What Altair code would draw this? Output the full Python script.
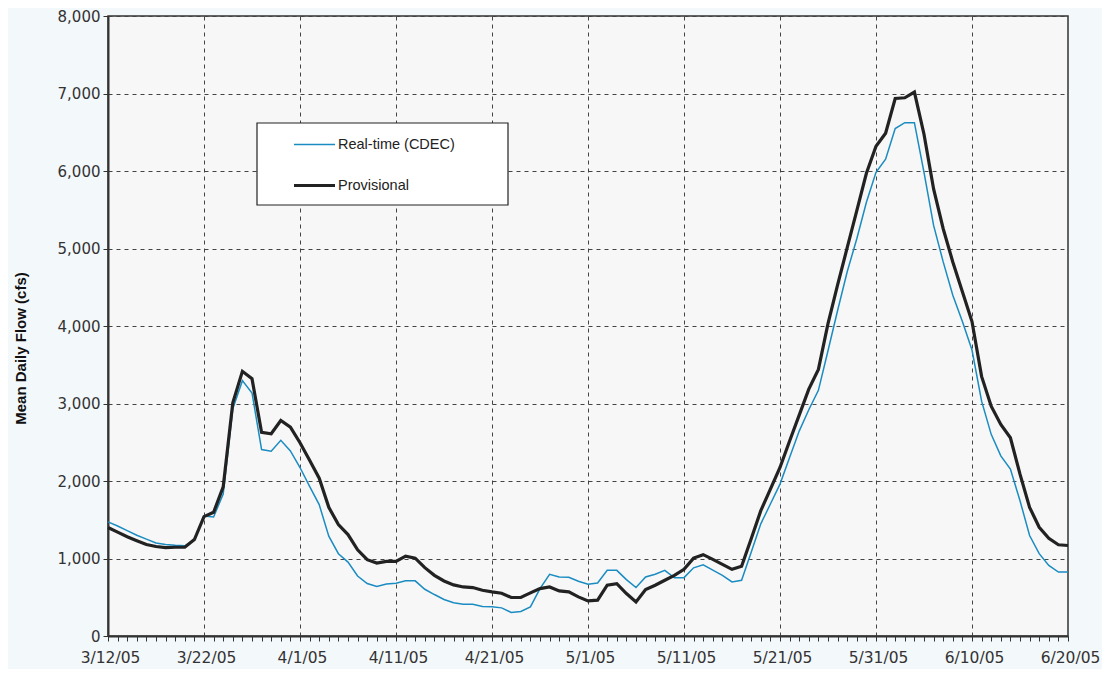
import altair as alt
import pandas as pd

# Day offsets from 3/12/05 (0 .. 100)
days = list(range(0, 101))

tick_labels = ["3/12/05", "3/22/05", "4/1/05", "4/11/05", "4/21/05", "5/1/05",
               "5/11/05", "5/21/05", "5/31/05", "6/10/05", "6/20/05"]

realtime = [1472, 1420, 1360, 1300, 1250, 1200, 1181, 1170, 1164, 1245,
            1549, 1536, 1832, 2931, 3295, 3136, 2405, 2384, 2525, 2388,
            2174, 1930, 1695, 1288, 1062, 954, 774, 677, 638, 670,
            682, 712, 712, 603, 535, 471, 428, 411, 411, 381,
            376, 363, 304, 317, 376, 612, 796, 761, 757, 706,
            668, 684, 847, 847, 728, 625, 761, 796, 847, 751,
            753, 880, 918, 851, 783, 697, 719, 1082, 1447, 1703,
            1960, 2302, 2644, 2920, 3170, 3680, 4200, 4700, 5126, 5597,
            5982, 6153, 6547, 6624, 6624, 5982, 5298, 4827, 4398, 4057,
            3690, 3030, 2602, 2324, 2153, 1746, 1297, 1062, 911, 825,
            825]

provisional = [1400, 1340, 1280, 1230, 1180, 1155, 1140, 1145, 1145, 1245,
               1540, 1596, 1925, 3008, 3415, 3320, 2627, 2610, 2781, 2696,
               2494, 2268, 2037, 1660, 1438, 1309, 1113, 985, 941, 963,
               963, 1031, 1005, 882, 783, 710, 659, 633, 625, 590,
               569, 552, 497, 497, 556, 612, 633, 582, 569, 505,
               453, 462, 655, 676, 548, 440, 600, 655, 719, 783,
               860, 1005, 1050, 988, 924, 860, 899, 1254, 1617, 1896,
               2174, 2516, 2850, 3185, 3440, 4030, 4530, 5010, 5490, 5970,
               6320, 6487, 6936, 6945, 7018, 6474, 5768, 5255, 4827, 4442,
               4057, 3350, 2965, 2730, 2558, 2088, 1660, 1403, 1262, 1177,
               1168]

series_names = ["Real-time (CDEC)", "Provisional"]
series_colors = ["#1a8cc1", "#222222"]
series_widths = [1.5, 3.2]

rows = []
for i, d in enumerate(days):
    rows.append({"day": d, "flow": realtime[i], "series": series_names[0], "order": 0})
for i, d in enumerate(days):
    rows.append({"day": d, "flow": provisional[i], "series": series_names[1], "order": 1})
df = pd.DataFrame(rows)

label_array = "[" + ",".join("'" + s + "'" for s in tick_labels) + "]"

x_axis = alt.Axis(
    values=days,
    labelExpr="datum.value % 10 === 0 ? " + label_array + "[datum.value / 10] : ''",
    labelOverlap=False,
    labelFlush=False,
    labelAlign="center",
    labelFont="DejaVu Sans",
    labelFontSize=15.5,
    labelColor="#333333",
    labelPadding=9,
    labelOffset=2,
    tickSize=5,
    tickColor="#333333",
    tickWidth=1,
    domainColor="#333333",
    domainWidth=2,
    grid=True,
    gridColor="#444444",
    gridDash=[4, 4],
    gridWidth=1,
    gridOpacity={"condition": {"test": "datum.value % 10 === 0 && datum.value > 0 && datum.value < 100", "value": 1}, "value": 0},
    title=None,
)

y_axis = alt.Axis(
    values=[0, 1000, 2000, 3000, 4000, 5000, 6000, 7000, 8000],
    format=",d",
    labelFlush=False,
    labelFont="DejaVu Sans",
    labelFontSize=15,
    labelColor="#333333",
    labelPadding=3,
    tickSize=5,
    tickColor="#333333",
    domainColor="#333333",
    domainWidth=2,
    grid=True,
    gridColor="#444444",
    gridDash=[4, 4],
    gridWidth=1,
    title="Mean Daily Flow (cfs)",
    titleFont="Liberation Sans",
    titleFontSize=15,
    titleFontWeight="bold",
    titleColor="#111111",
    titleAngle=-90,
    titleX=-88,
    titleY=332,
    titleAlign="center",
    titleBaseline="middle",
)

legend_cfg = dict(
    orient="none", legendX=149, legendY=107,
    title=None,
    padding=0, rowPadding=12,
    symbolType="stroke", symbolSize=1681, symbolOffset=35,
    labelOffset=1,
    labelFont="Liberation Sans", labelFontSize=14.5, labelColor="#222222",
)

lines = alt.Chart(df).mark_line(strokeJoin="miter").encode(
    x=alt.X("day:Q", scale=alt.Scale(domain=[0, 100], nice=False, zero=False), axis=x_axis),
    y=alt.Y("flow:Q", scale=alt.Scale(domain=[0, 8000], nice=False), axis=y_axis),
    color=alt.Color("series:N",
                    scale=alt.Scale(domain=series_names, range=series_colors),
                    legend=alt.Legend(**legend_cfg)),
    strokeWidth=alt.StrokeWidth("series:N",
                                scale=alt.Scale(domain=series_names, range=series_widths),
                                legend=alt.Legend(**legend_cfg)),
    order=alt.Order("order:Q"),
    detail="series:N",
)

# legend frame (decoration behind the built-in legend)
legend_box = alt.Chart(pd.DataFrame({"k": [0]})).mark_rect(
    fill="#ffffff", stroke="#222222", strokeWidth=1.2
).encode(
    x=alt.value(149), x2=alt.value(400), y=alt.value(107), y2=alt.value(189)
)

chart = alt.layer(lines, legend_box).properties(
    width=960,
    height=620,
    autosize=alt.AutoSizeParams(type="none"),
    padding={"left": 100, "top": 8, "right": 34, "bottom": 33},
    background="#f3f8fb",
).configure_view(
    fill="#f7f7f7",
    stroke="#333333",
    strokeWidth=1.5,
)

chart.save("out.html", embed_options={"renderer": "svg", "actions": False})
